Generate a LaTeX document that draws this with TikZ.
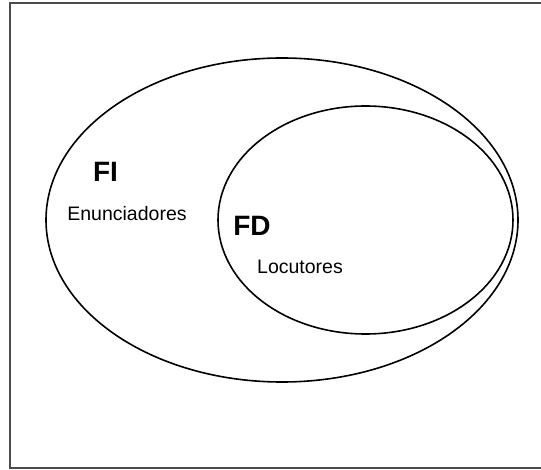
\documentclass[tikz,border=0pt]{standalone}
\usepackage{fontspec}
\setmainfont{Liberation Sans}
\begin{document}
\begin{tikzpicture}[
  x=1pt, y=-1pt,
  ring/.style={draw, line width=1.6pt},
  title/.style={font=\fontsize{28}{30}\selectfont\bfseries, inner sep=0pt},
  role/.style={font=\fontsize{19.5}{22}\selectfont, inner sep=0pt}
]
\useasboundingbox (0,0) rectangle (541,470);
\begin{scope}
\clip (0,0) rectangle (541,470);
\draw[line width=1.8pt, black!70] (10,3) rectangle (545,468);
\end{scope}
\draw[ring] (282,220) ellipse [x radius=236, y radius=162];
\draw[ring] (365.5,220) ellipse [x radius=147.5, y radius=114];
\node[title] (fi) at (105.5,172) {FI};
\node[role] (enun) at (127,214) {Enunciadores};
\node[title] (fd) at (252,226) {FD};
\node[role] (loc) at (300,267) {Locutores};
\end{tikzpicture}
\end{document}
